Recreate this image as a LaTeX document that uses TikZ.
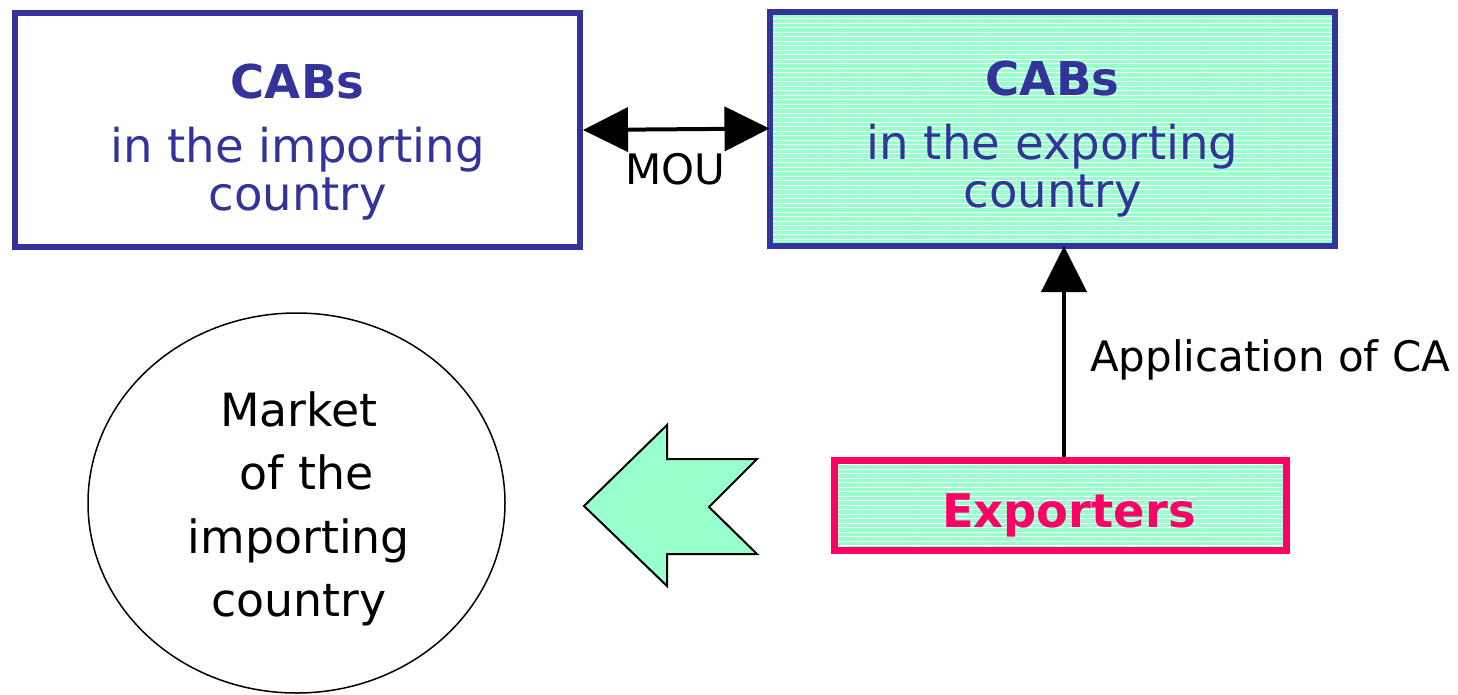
\documentclass[tikz,border=0pt]{standalone}
\usepackage{fontspec}
\setmainfont{DejaVu Sans}
\usetikzlibrary{shapes.geometric,arrows.meta,patterns.meta}
\definecolor{cblue}{HTML}{333399}
\definecolor{cpink}{HTML}{FF0066}
\definecolor{cgreen}{HTML}{99FFCC}
\tikzset{
  stripes/.style={preaction={fill=cgreen}, pattern={Lines[angle=0,distance=4.5pt,line width=1pt]}, pattern color=white},
  cabbox/.style={draw=cblue, line width=6pt, minimum width=565pt, minimum height=234pt, inner sep=0pt},
  boxtext/.style={text=cblue, align=center, inner sep=0pt, font=\fontsize{46.6}{48}\selectfont},
  circtext/.style={align=center, inner sep=0pt, font=\fontsize{45.8}{63.5}\selectfont},
  lbl/.style={inner sep=0pt, font=\fontsize{42}{48}\selectfont},
  conn/.style={line width=4pt, -{Triangle[length=46pt,width=45pt]}},
  biconn/.style={line width=4pt, {Triangle[length=45pt,width=44pt]}-{Triangle[length=45pt,width=44pt]}},
}
\begin{document}
\begin{tikzpicture}[x=1pt,y=-1pt]
\useasboundingbox (0,0) rectangle (1458,694);
% boxes
\node[cabbox] (L) at (297.5,130) {};
\node[boxtext] (Lt) at (297.5,142.5) {{\bfseries CABs}\\[16pt]in the importing\\country};
\node[cabbox, stripes] (R) at (1052.5,128.5) {};
\node[boxtext] (Rt) at (1052.5,139.5) {{\bfseries CABs}\\[16pt]in the exporting\\country};
\node[draw=cpink, line width=7pt, minimum width=452pt, minimum height=90pt, inner sep=0pt, stripes] (E) at (1060.5,505.5) {};
\node[text=cpink, inner sep=0pt, font=\fontsize{46.4}{48}\bfseries] (Et) at (1069,515) {Exporters};
% market
\node[draw, ellipse, line width=1.5pt, minimum width=417pt, minimum height=380pt, inner sep=0pt] (M) at (296.5,503) {};
\node[circtext] (Mt) at (299,508.7) {Market\\\hspace*{15pt}of the\\importing\\country};
% MOU connector
\draw[biconn] (L.east) -- (R.west);
\node[lbl, anchor=base] (mou) at (675.5,184) {MOU};
% application arrow
\coordinate (ax) at (1064,0);
\draw[conn] (E.north -| ax) -- (R.south -| ax);
\node[lbl, anchor=base west] (app) at (1090,371) {Application of CA};
% block arrow
\draw[fill=cgreen, line width=2pt, line join=miter] (584,506) -- (667,425) -- (667,459) -- (757,459) -- (709,507) -- (757,554) -- (667,554) -- (667,586) -- cycle;
\end{tikzpicture}
\end{document}
